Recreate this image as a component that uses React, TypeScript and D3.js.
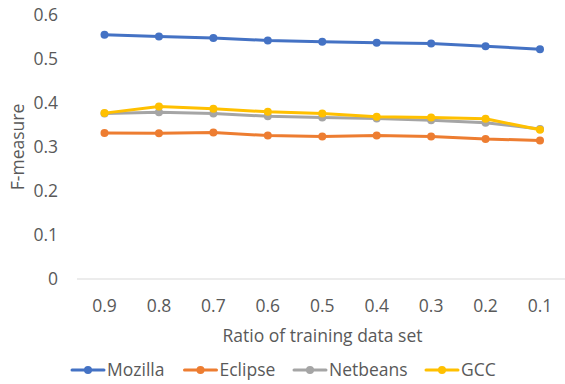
import React from "react";
import * as d3 from "d3";

const categories = ["0.9", "0.8", "0.7", "0.6", "0.5", "0.4", "0.3", "0.2", "0.1"];
const mozilla = [0.555, 0.551, 0.548, 0.542, 0.539, 0.537, 0.535, 0.529, 0.522];
const eclipse = [0.332, 0.331, 0.333, 0.326, 0.324, 0.326, 0.324, 0.318, 0.315];
const netbeans = [0.376, 0.379, 0.376, 0.370, 0.367, 0.365, 0.361, 0.355, 0.341];
const gcc = [0.377, 0.392, 0.387, 0.380, 0.376, 0.369, 0.367, 0.364, 0.339];
const yTicks = [0, 0.1, 0.2, 0.3, 0.4, 0.5, 0.6];
const seriesNames = ["Mozilla", "Eclipse", "Netbeans", "GCC"];
const colors = ["#4472C4", "#ED7D31", "#A5A5A5", "#FFC000"];

const W = 565;
const H = 384;
const FONT = "'Open Sans', sans-serif";
const TEXT = "#595959";
const FS = 17.5;

export default function App() {
  const series = [mozilla, eclipse, netbeans, gcc];
  const x = d3.scalePoint<string>().domain(categories).range([104.5, 540]);
  const y = d3.scaleLinear().domain([0, 0.6]).range([279, 15]);
  const line = d3
    .line<number>()
    .x((_, i) => x(categories[i]) as number)
    .y((d) => y(d));
  const legendX = [72, 184.5, 294, 426];
  const legendY = 370;
  return (
    <svg width={W} height={H} style={{ position: "absolute", left: 0, top: 0, background: "#fff" }}>
      <line x1={77} x2={W} y1={y(0)} y2={y(0)} stroke="#D9D9D9" strokeWidth={1} />
      {yTicks.map((t) => (
        <text key={t} x={58} y={y(t)} dy="0.35em" textAnchor="end" fontFamily={FONT} fontSize={FS} fill={TEXT}>
          {t === 0 ? "0" : t.toFixed(1)}
        </text>
      ))}
      {categories.map((c) => (
        <text key={c} x={x(c)} y={306} dy="0.35em" textAnchor="middle" fontFamily={FONT} fontSize={FS} fill={TEXT}>
          {c}
        </text>
      ))}
      <text x={322.5} y={335.5} dy="0.35em" textAnchor="middle" fontFamily={FONT} fontSize={FS} fill={TEXT}>
        Ratio of training data set
      </text>
      <text
        transform={`translate(18,147) rotate(-90)`}
        dy="0.35em"
        textAnchor="middle"
        fontFamily={FONT}
        fontSize={FS}
        fill={TEXT}
      >
        F-measure
      </text>
      {series.map((s, si) => (
        <g key={si}>
          <path d={line(s) || ""} fill="none" stroke={colors[si]} strokeWidth={3} strokeLinejoin="round" strokeLinecap="round" />
          {s.map((v, i) => (
            <circle key={i} cx={x(categories[i])} cy={y(v)} r={4} fill={colors[si]} />
          ))}
        </g>
      ))}
      {seriesNames.map((n, i) => (
        <g key={n}>
          <line x1={legendX[i]} x2={legendX[i] + 32} y1={legendY} y2={legendY} stroke={colors[i]} strokeWidth={3} strokeLinecap="round" />
          <circle cx={legendX[i] + 16} cy={legendY} r={4} fill={colors[i]} />
          <text x={legendX[i] + 35} y={legendY} dy="0.35em" fontFamily={FONT} fontSize={FS} fill={TEXT}>
            {n}
          </text>
        </g>
      ))}
    </svg>
  );
}
